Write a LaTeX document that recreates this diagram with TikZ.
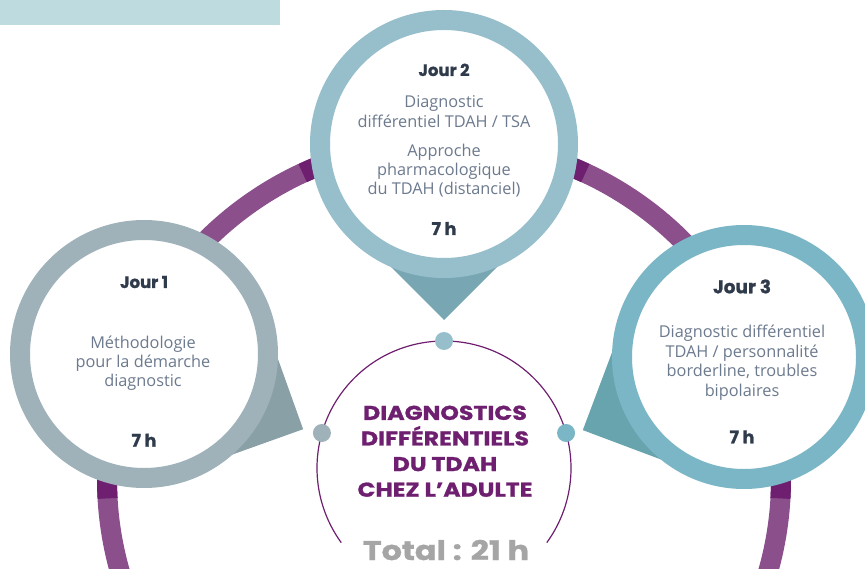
\documentclass[tikz,border=0pt]{standalone}
\usepackage{fontspec}
\setmainfont{Open Sans}
\newfontfamily\hf{Poppins}[BoldFeatures={FakeBold=1}]
\newfontfamily\hfw{Poppins}[FakeStretch=1.18, BoldFeatures={FakeBold=1, FakeStretch=1.18}]
\usetikzlibrary{calc}
\definecolor{topbar}{HTML}{BEDBDF}
\definecolor{ringp}{HTML}{8B4F8C}
\definecolor{darkp}{HTML}{6E1F6F}
\definecolor{jA}{HTML}{9FB2B9}
\definecolor{jAt}{HTML}{8AA0A7}
\definecolor{jB}{HTML}{97BECB}
\definecolor{jBt}{HTML}{78A7B3}
\definecolor{jC}{HTML}{7BB6C6}
\definecolor{jCt}{HTML}{67A4AE}
\definecolor{headc}{HTML}{2F3B4A}
\definecolor{bodyc}{HTML}{6C7A8E}
\definecolor{totc}{HTML}{A5A5A5}
\tikzset{
  daycircle/.style={circle, draw=#1, fill=white, line width=20pt, minimum size=248pt, inner sep=0pt, outer sep=0pt},
  dot/.style={circle, fill=#1, minimum size=18pt, inner sep=0pt},
  jtitle/.style={anchor=base, text=headc, font=\hf\bfseries\fontsize{16.5}{16.5}\selectfont},
  jhours/.style={anchor=base, text=headc, font=\hf\bfseries\fontsize{17.5}{17.5}\selectfont},
  jbody/.style={anchor=base, align=center, text=bodyc, font=\fontsize{16.3}{19.3}\selectfont, inner sep=0pt},
  ctext/.style={anchor=base, align=center, text=darkp, font=\hfw\bfseries\fontsize{20}{25.6}\selectfont, inner sep=0pt},
  ringarc/.style={line width=20pt}
}
\begin{document}
\begin{tikzpicture}[x=1pt,y=1pt]
\useasboundingbox (0,0) rectangle (865,568);
\clip (0,0) rectangle (865,568);
\fill[topbar] (0,543) rectangle (280,568);
% big purple ring
\coordinate (rc) at (444,89);
\draw[ringp, ringarc] (rc) circle[radius=337pt];
\draw[darkp, ringarc] ($(rc)+(178:337pt)$) arc[start angle=178, end angle=183.3, radius=337pt];
\draw[darkp, ringarc] ($(rc)+(-3.3:337pt)$) arc[start angle=-3.3, end angle=2, radius=337pt];
\draw[darkp, ringarc] ($(rc)+(110:337pt)$) arc[start angle=110, end angle=114.8, radius=337pt];
\draw[darkp, ringarc] ($(rc)+(65.2:337pt)$) arc[start angle=65.2, end angle=70, radius=337pt];
% centre thin circle
\coordinate (cc) at (444,100);
\draw[darkp, line width=1.2pt] ($(cc)+(-36:127pt)$) arc[start angle=-36, end angle=216, radius=127pt];
% day circle centres
\coordinate (c1) at (144,214);
\coordinate (c2) at (444,424);
\coordinate (c3) at (744,211);
% pointers
\coordinate (a1) at ($(c1)+(-25.3:176pt)$);
\coordinate (a2) at ($(c2)+(-90:176pt)$);
\coordinate (a3) at ($(c3)+(204.4:177pt)$);
\fill[jAt] (a1) -- ($(a1)+(199.7:150pt)$) -- ($(a1)+(109.7:150pt)$) -- cycle;
\fill[jBt] (a2) -- ($(a2)+(135:150pt)$) -- ($(a2)+(45:150pt)$) -- cycle;
\fill[jCt] (a3) -- ($(a3)+(-20.6:150pt)$) -- ($(a3)+(69.4:150pt)$) -- cycle;
% day circles
\node[daycircle=jA] (j1) at (c1) {};
\node[daycircle=jB] (j2) at (c2) {};
\node[daycircle=jC, minimum size=244pt] (j3) at (c3) {};
% dots
\node[dot=jA] (d1) at ($(cc)+(164:127pt)$) {};
\node[dot=jB] (d2) at ($(cc)+(90:127pt)$) {};
\node[dot=jC] (d3) at ($(cc)+(16:127pt)$) {};
% Jour 1 texts
\node[jtitle] (t1) at (144,280) {Jour 1};
\node[jbody] (b1) at (143,181.3) {Méthodologie\\pour la démarche\\diagnostic};
\node[jhours] (h1) at (144,121.3) {7 h};
% Jour 2 texts
\node[jtitle] (t2) at (444,492) {Jour 2};
\node[jbody, font=\fontsize{16.3}{20.4}\selectfont] (b2a) at (444,440.3) {Diagnostic\\différentiel TDAH / TSA};
\node[jbody] (b2b) at (444,373) {Approche\\pharmacologique\\du TDAH (distanciel)};
\node[jhours] (h2) at (444,333) {7 h};
% Jour 3 texts
\node[jtitle, font=\hf\bfseries\fontsize{18.5}{18.5}\selectfont] (t3) at (742,274.7) {Jour 3};
\node[jbody, font=\fontsize{16.3}{19.8}\selectfont] (b3) at (742,171.3) {Diagnostic différentiel\\TDAH / personnalité\\borderline, troubles\\bipolaires};
\node[jhours] (h3) at (742,124.7) {7 h};
% centre
\node[ctext] (ct) at (445,71.3) {DIAGNOSTICS\\DIFFÉRENTIELS\\DU TDAH\\CHEZ L’ADULTE};
\node[anchor=base, text=totc, font=\hfw\bfseries\fontsize{27}{27}\selectfont] (tot) at (446,8) {Total : 21 h};
\end{tikzpicture}
\end{document}
